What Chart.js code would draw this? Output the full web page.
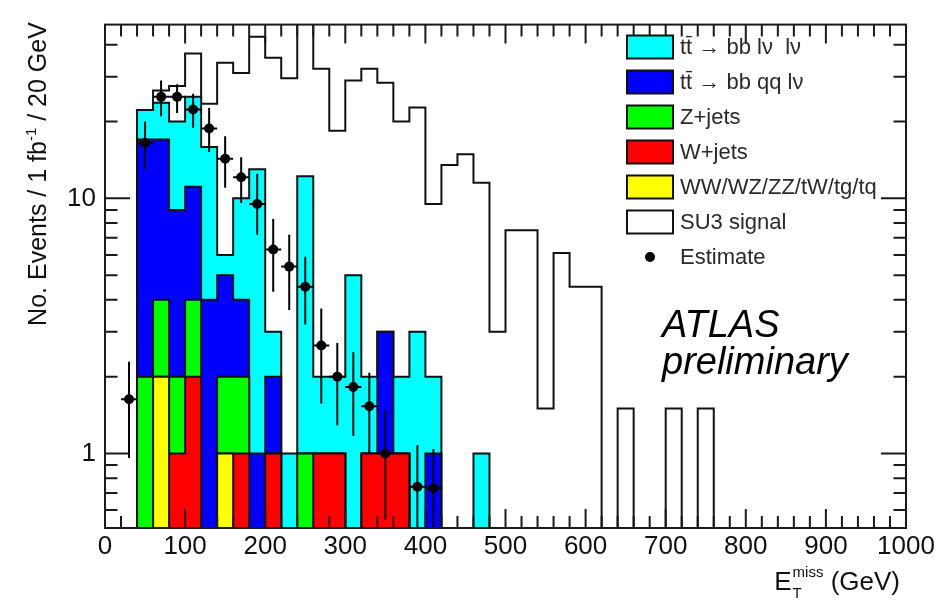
<!DOCTYPE html>
<html>
<head>
<meta charset="utf-8">
<script src="https://cdn.jsdelivr.net/npm/chart.js@4.4.1/dist/chart.umd.min.js"></script>
<style>
  html, body { margin: 0; padding: 0; background: #fff; }
  canvas { display: block; }
</style>
</head>
<body>
<canvas id="chart" width="943" height="603" style="width:943px;height:603px"></canvas>
<script>
// --- data (events / 1 fb-1 / 20 GeV) ---
const BIN_W = 20;
// low edges of the background bins (GeV)
const BIN_LO = [40, 60, 80, 100, 120, 140, 160, 180, 200, 220, 240, 260, 280, 300, 320, 340, 360, 380, 400, 420, 440, 460];
// background components, per bin, bottom of the stack first
const WW_ETC  = [0, 2, 0, 0, 0, 1, 0, 0, 0, 0, 0, 0, 0, 0, 0, 0, 0, 0, 0, 0, 0, 0];
const W_JETS  = [0, 0, 1, 2, 0, 0, 1, 0, 1, 0, 0, 1, 1, 0, 1, 1, 1, 0, 0, 0, 0, 0];
const Z_JETS  = [2, 2, 1, 2, 0, 1, 1, 0, 0, 0, 1, 0, 0, 0, 0, 0, 0, 0, 0, 0, 0, 0];
const TT_SEMI = [15, 13, 7, 7.1, 4, 3, 2, 1, 1, 0, 0, 0, 0, 0, 0, 2, 0, 0, 1, 0, 0, 0];
const TT_DILEP = [5.2, 6.7, 11, 13.9, 11.9, 1, 6, 12, 1, 1, 11.2, 1, 1, 5, 1, 0, 1, 3, 1, 0, 0, 1];

// SU3 signal
const SU3_LO = [40, 60, 80, 100, 120, 140, 160, 180, 200, 220, 240, 260, 280, 300, 320, 340, 360, 380,
                400, 420, 440, 460, 480, 500, 520, 540, 560, 580, 600, 620, 640, 660, 680, 700, 720, 740];
const SU3 = [0, 26.5, 27.6, 37, 23.5, 34, 31, 43, 35.6, 29.6, 55, 32.2, 18.4, 29, 32.2, 28.4, 20, 22.7,
             9.5, 13.5, 14.9, 11.5, 3.0, 7.5, 7.5, 1.5, 6.1, 4.5, 4.5, 0, 1.5, 0, 0, 1.5, 0, 1.5];

// data-driven estimate with errors
const EST_X  = [30, 50, 70, 90, 110, 130, 150, 170, 190, 210, 230, 250, 270, 290, 310, 330, 350, 390, 410];
const EST_Y  = [1.63, 16.5, 25, 25, 22.3, 18.8, 14.3, 12.1, 9.5, 6.3, 5.4, 4.5, 2.65, 2.0, 1.82, 1.53, 1.0, 0.74, 0.73];
const EST_LO = [0.96, 13.0, 21, 21.6, 18.9, 15.2, 11.0, 9.6, 7.2, 4.3, 3.65, 3.2, 1.57, 1.29, 1.17, 1.0, 0.55, 0.3, 0.3];
const EST_HI = [2.29, 20, 29, 28, 25.7, 22.6, 17.5, 14.5, 12.5, 8.3, 7.2, 5.9, 3.7, 2.71, 2.49, 2.07, 1.48, 1.08, 1.04];

const X_TICKS = [0, 100, 200, 300, 400, 500, 600, 700, 800, 900, 1000];
const Y_TICKS = [1, 10];
const Y_MIN = 0.51, Y_MAX = 48;

const LEGEND_LABELS = ['tt\u0304 \u2192 bb l\u03bd  l\u03bd', 'tt\u0304 \u2192 bb qq l\u03bd', 'Z+jets', 'W+jets',
                       'WW/WZ/ZZ/tW/tg/tq', 'SU3 signal', 'Estimate'];
const COLORS = ['#00ffff', '#0000ff', '#00ff00', '#ff0000', '#ffff00', '#ffffff'];

const FONT = '"Liberation Sans", Arial, Helvetica, sans-serif';
const FLOOR = 0.3; // empty bins are sent below the axis

// cumulative levels, bottom of the stack first
function cumulate(parts) {
  const out = [];
  let run = BIN_LO.map(() => 0);
  parts.forEach(p => {
    run = run.map((v, i) => v + p[i]);
    out.push(run);
  });
  return out;
}

// histogram outline as step points
function steps(lo, h) {
  const pts = [{x: lo[0], y: FLOOR}];
  lo.forEach((x, i) => pts.push({x: x, y: h[i] > 0 ? h[i] : FLOOR}));
  pts.push({x: lo[lo.length - 1] + BIN_W, y: FLOOR});
  return pts;
}

const levels = cumulate([WW_ETC, W_JETS, Z_JETS, TT_SEMI, TT_DILEP]);

function histSet(h, color) {
  return {
    data: steps(BIN_LO, h),
    stepped: true,
    fill: 'start',
    backgroundColor: color,
    borderColor: '#111',
    borderWidth: 2,
    pointRadius: 0,
    borderJoinStyle: 'miter'
  };
}

const errorBars = {
  id: 'errorBars',
  afterDatasetsDraw(chart) {
    const {ctx, chartArea: a, scales: {x, y}} = chart;
    ctx.save();
    ctx.beginPath();
    ctx.rect(a.left, a.top, a.width, a.height);
    ctx.clip();
    ctx.strokeStyle = '#000';
    ctx.lineWidth = 2;
    EST_X.forEach((gev, i) => {
      const px = x.getPixelForValue(gev);
      const py = y.getPixelForValue(EST_Y[i]);
      ctx.beginPath();
      ctx.moveTo(px, y.getPixelForValue(EST_HI[i]));
      ctx.lineTo(px, y.getPixelForValue(EST_LO[i]));
      ctx.moveTo(x.getPixelForValue(gev - BIN_W / 2), py);
      ctx.lineTo(x.getPixelForValue(gev + BIN_W / 2), py);
      ctx.stroke();
    });
    ctx.restore();
  }
};

// ROOT style frame with ticks inside on all four sides
const frame = {
  id: 'frame',
  afterDraw(chart) {
    const {ctx, chartArea: a, scales: {x, y}} = chart;
    ctx.save();
    ctx.strokeStyle = '#1a1a1a';
    ctx.lineWidth = 2;
    ctx.beginPath();
    for (let v = 0; v <= 1000; v += BIN_W) {
      const px = x.getPixelForValue(v);
      const len = v % 100 === 0 ? 19 : 12;
      ctx.moveTo(px, a.bottom); ctx.lineTo(px, a.bottom - len);
      ctx.moveTo(px, a.top); ctx.lineTo(px, a.top + len);
    }
    [0.1, 1, 10].forEach(dec => {
      for (let m = 1; m <= 9; m++) {
        const v = m * dec;
        if (v < Y_MIN || v > Y_MAX) continue;
        const py = y.getPixelForValue(v);
        const len = m === 1 ? 25 : 12.5;
        ctx.moveTo(a.left, py); ctx.lineTo(a.left + len, py);
        ctx.moveTo(a.right, py); ctx.lineTo(a.right - len, py);
      }
    });
    ctx.stroke();
    ctx.strokeRect(a.left, a.top, a.width, a.height);
    ctx.restore();
  }
};

function measure(ctx, parts) {
  let w = 0;
  parts.forEach(p => { ctx.font = p.f; w += ctx.measureText(p.t).width; });
  return w;
}
function drawParts(ctx, parts, x, y) {
  let cx = x;
  parts.forEach(p => {
    ctx.font = p.f;
    ctx.fillText(p.t, cx, y + (p.dy || 0));
    cx += ctx.measureText(p.t).width;
  });
}

const annotations = {
  id: 'annotations',
  afterDraw(chart) {
    const {ctx} = chart;
    ctx.save();
    ctx.fillStyle = '#111';
    ctx.textBaseline = 'alphabetic';

    // y title
    const yParts = [
      {t: 'No. Events / 1 fb', f: '25px ' + FONT},
      {t: '-1', f: '15px ' + FONT, dy: -10},
      {t: ' / 20 GeV', f: '25px ' + FONT}
    ];
    ctx.save();
    ctx.translate(46, 174);
    ctx.rotate(-Math.PI / 2);
    drawParts(ctx, yParts, -measure(ctx, yParts) / 2, 0);
    ctx.restore();

    // x title: E_T^miss (GeV), right aligned
    ctx.font = '26px ' + FONT;
    const wE = ctx.measureText('E').width;
    ctx.font = '15px ' + FONT;
    const wSup = Math.max(ctx.measureText('miss').width, ctx.measureText('T').width);
    ctx.font = '26px ' + FONT;
    const wRest = ctx.measureText(' (GeV)').width;
    let x0 = 899 - (wE + wSup + wRest);
    const base = 590;
    ctx.fillText('E', x0, base);
    ctx.font = '15px ' + FONT;
    ctx.fillText('miss', x0 + wE + 1, base - 13);
    ctx.fillText('T', x0 + wE + 1, base + 8);
    ctx.font = '26px ' + FONT;
    ctx.fillText(' (GeV)', x0 + wE + wSup + 1, base);

    // legend
    const rowY = [47, 82, 117, 152, 187, 222, 257];
    ctx.textBaseline = 'middle';
    ctx.font = '22px ' + FONT;
    LEGEND_LABELS.forEach((lab, i) => {
      const cy = rowY[i];
      if (i < COLORS.length) {
        ctx.fillStyle = COLORS[i];
        ctx.fillRect(627, cy - 11.5, 46, 23);
        ctx.strokeStyle = '#111';
        ctx.lineWidth = 2;
        ctx.strokeRect(627, cy - 11.5, 46, 23);
      } else {
        ctx.fillStyle = '#000';
        ctx.beginPath();
        ctx.arc(650, cy, 5, 0, Math.PI * 2);
        ctx.fill();
      }
      ctx.fillStyle = '#2a2a2a';
      ctx.fillText(lab, 680, cy + 1);
    });

    // ATLAS preliminary
    ctx.textBaseline = 'alphabetic';
    ctx.fillStyle = '#000';
    ctx.font = 'italic 38px ' + FONT;
    ctx.fillText('ATLAS', 662, 337);
    ctx.fillText('preliminary', 662, 374);
    ctx.restore();
  }
};

Chart.defaults.font.family = FONT;

new Chart(document.getElementById('chart'), {
  type: 'line',
  data: {
    datasets: [
      {
        data: EST_X.map((x, i) => ({x: x, y: EST_Y[i]})),
        showLine: false,
        pointRadius: 5,
        pointBackgroundColor: '#000',
        pointBorderWidth: 0
      },
      histSet(levels[0], COLORS[4]),
      histSet(levels[1], COLORS[3]),
      histSet(levels[2], COLORS[2]),
      histSet(levels[3], COLORS[1]),
      histSet(levels[4], COLORS[0]),
      {
        data: steps(SU3_LO, SU3),
        stepped: true,
        fill: false,
        borderColor: '#111',
        borderWidth: 2,
        pointRadius: 0,
        borderJoinStyle: 'miter'
      }
    ]
  },
  options: {
    responsive: false,
    devicePixelRatio: 1,
    animation: false,
    events: [],
    layout: { padding: { left: 5, right: 37, top: 8, bottom: 0 } },
    plugins: { legend: { display: false }, tooltip: { enabled: false }, title: { display: false } },
    scales: {
      x: {
        type: 'linear',
        min: 0,
        max: 1000,
        afterBuildTicks: s => { s.ticks = X_TICKS.map(v => ({value: v})); },
        afterFit: s => { s.height = 75; },
        ticks: { font: { size: 26 }, color: '#111', padding: 3, maxRotation: 0, autoSkip: false, callback: v => String(v) },
        grid: { display: false, drawTicks: false },
        border: { display: false }
      },
      y: {
        type: 'logarithmic',
        min: Y_MIN,
        max: Y_MAX,
        afterBuildTicks: s => { s.ticks = Y_TICKS.map(v => ({value: v})); },
        afterFit: s => { s.width = 100; },
        ticks: { font: { size: 26 }, color: '#111', padding: 9, autoSkip: false, callback: v => String(v) },
        grid: { display: false, drawTicks: false },
        border: { display: false }
      }
    }
  },
  plugins: [errorBars, frame, annotations]
});
</script>
</body>
</html>
